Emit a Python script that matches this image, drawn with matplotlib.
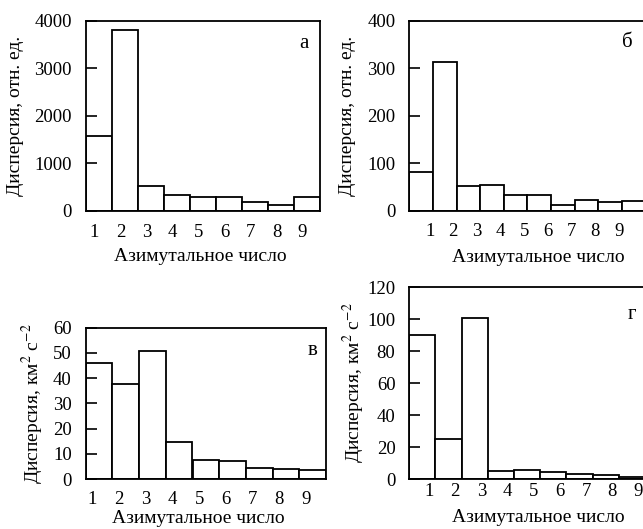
import numpy as np
import matplotlib
matplotlib.use("Agg")
import matplotlib.pyplot as plt

plt.rcParams['font.family'] = ['Liberation Serif', 'DejaVu Serif']
plt.rcParams['mathtext.fontset'] = 'stix'

# dispersion by azimuthal number
disp_a = [1570, 3800, 520, 330, 295, 295, 177, 112, 295]
disp_b = [82, 314, 52, 54, 33, 33, 12.6, 23, 17.7, 21]
disp_v = [46, 37.6, 50.9, 14.8, 7.7, 7.3, 4.2, 4.0, 3.7]
disp_g = [90.4, 25.2, 100.6, 5.0, 5.8, 4.6, 3.3, 2.3, 1.3]

wave_labels = ['1', '2', '3', '4', '5', '6', '7', '8', '9']

ylab_rel = 'Дисперсия, отн. ед.'
ylab_km = 'Дисперсия, км$^2$ с$^{-2}$'
xlab = 'Азимутальное число'

W, H = 643, 529
fig = plt.figure(figsize=(W / 100, H / 100), dpi=100)

FS_TICK = 13.5
FS_LAB = 14


def px_axes(left, right, top, bottom):
    return fig.add_axes([left / W, 1 - bottom / H, (right - left) / W, (bottom - top) / H])


def panel(ax, vals, ymax, ystep, ylabel, letter, lab_shift, xpad,
          ylab_x, xlab_xy, letter_xy):
    n = len(vals)
    x = np.arange(n)
    ax.bar(x, vals, width=1.0, align='edge', color='white',
           edgecolor='black', linewidth=1.3)
    ax.set_xlim(0, n)
    ax.set_ylim(0, ymax)
    ax.set_yticks(np.arange(0, ymax + 1, ystep))
    ax.set_xticks(np.arange(1, 10) + lab_shift)
    ax.set_xticklabels(wave_labels)
    ax.tick_params(axis='x', length=0, pad=xpad, labelsize=FS_TICK)
    ax.tick_params(axis='y', direction='in', length=8, width=1.2, pad=10,
                   labelsize=FS_TICK)
    for s in ax.spines.values():
        s.set_linewidth(1.3)
    ax.set_ylabel(ylabel, fontsize=FS_LAB, va='center')
    ax.yaxis.set_label_coords(ylab_x, 0.5)
    ax.set_xlabel(xlab, fontsize=FS_LAB, va='center')
    ax.xaxis.set_label_coords(*xlab_xy)
    ax.text(letter_xy[0], letter_xy[1], letter, transform=ax.transAxes,
            ha='center', va='center', fontsize=15)


ax1 = px_axes(85.7, 320, 20.7, 210.7)
panel(ax1, disp_a, 4000, 1000, ylab_rel, 'а', -0.67, 9.5,
      -0.30, (0.49, -0.242), (0.93, 0.88))

ax2 = px_axes(409.3, 645.5, 20.7, 210.7)
panel(ax2, disp_b, 400, 100, ylab_rel, 'б', -0.14, 8.5,
      -0.262, (0.545, -0.245), (0.925, 0.885))

ax3 = px_axes(85.7, 326, 327.7, 479)
panel(ax3, disp_v, 60, 10, ylab_km, 'в', -0.75, 8.5,
      -0.219, (0.47, -0.262), (0.945, 0.85))

ax4 = px_axes(409.3, 645, 287.3, 479)
panel(ax4, disp_g, 120, 20, ylab_km, 'г', -0.25, 2.8,
      -0.235, (0.546, -0.2), (0.945, 0.86))

fig.savefig('out.png', dpi=100)
